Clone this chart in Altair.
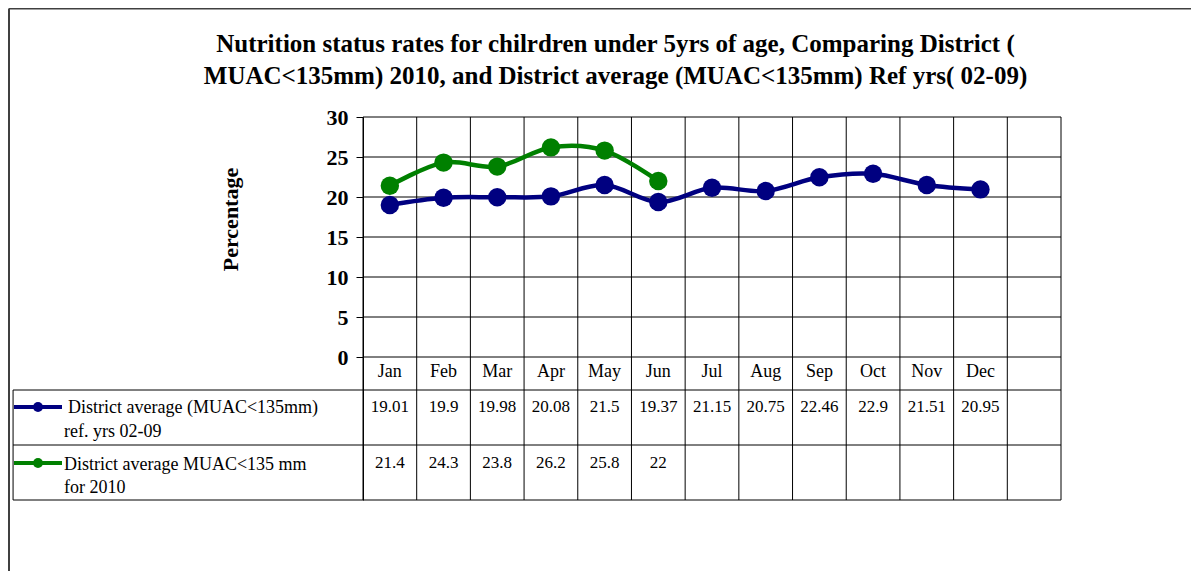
import altair as alt
import pandas as pd

# ---------------- data ----------------
months = ["Jan", "Feb", "Mar", "Apr", "May", "Jun", "Jul", "Aug", "Sep", "Oct", "Nov", "Dec"]
series_ref = "District average (MUAC<135mm) ref. yrs 02-09"
series_2010 = "District average MUAC<135 mm for 2010"
ref_values = [19.01, 19.9, 19.98, 20.08, 21.5, 19.37, 21.15, 20.75, 22.46, 22.9, 21.51, 20.95]
values_2010 = [21.4, 24.3, 23.8, 26.2, 25.8, 22]
legend_lines_ref = ["District average (MUAC<135mm)", "ref. yrs 02-09"]
legend_lines_2010 = ["District average MUAC<135 mm", "for 2010"]
y_ticks = [0, 5, 10, 15, 20, 25, 30]
title_lines = [
    "Nutrition status rates for chilrdren under 5yrs of age, Comparing District (",
    "MUAC<135mm) 2010, and District average (MUAC<135mm) Ref yrs( 02-09)",
]
colors = {series_ref: "#000080", series_2010: "#008000"}

# ---------------- layout (pixels) ----------------
W, H = 1049, 383             # view: table legend column + plot columns
PLOT_LEFT = 351              # plot area starts this far into the view
NCOL = 13                    # 12 months + one empty column
XU = (W - PLOT_LEFT) / NCOL  # px per column
YU = 8.0                     # px per percent
XMIN = -PLOT_LEFT / XU
XMAX = NCOL
YMAX = 30
YMIN = YMAX - H / YU


def px2x(px):  # px relative to view left
    return XMIN + px / XU


def px2y(py):  # py relative to view top
    return YMAX - py / YU


FONT = "Liberation Serif"
TFS = 17  # table value font size
LFS = 18  # table label font size

# table rows (view px): header 240..273, row1 273..328, row2 328..383
ROW_TOP = [240, 273, 328, 383]
HEADER_Y = px2y(255)
VAL_Y = [px2y(290), px2y(346)]
LEG_Y = [[px2y(291), px2y(315)], [px2y(348), px2y(371)]]
SYM_Y = [px2y(290), px2y(346)]

# ---------------- frames ----------------
curve = []
for i, v in enumerate(ref_values):
    curve.append({"x": i + 0.5, "v": v, "s": series_ref})
for i, v in enumerate(values_2010):
    curve.append({"x": i + 0.5, "v": v, "s": series_2010})
curve = pd.DataFrame(curve)

xs = alt.X("x:Q", scale=alt.Scale(domain=[XMIN, XMAX], nice=False, zero=False), axis=None)
ys = alt.Y(
    "v:Q",
    scale=alt.Scale(domain=[YMIN, YMAX], nice=False, zero=False),
    axis=alt.Axis(
        values=y_ticks, offset=-PLOT_LEFT, grid=False,
        domainColor="black", domainWidth=1, tickColor="black", tickSize=7, tickWidth=1,
        labelFont=FONT, labelFontSize=22, labelFontWeight="bold", labelColor="black", labelPadding=8,
        title="Percentage", titleFont=FONT, titleFontSize=22, titleFontWeight="bold", titleColor="black",
        titleAngle=270, titleX=-133, titleY=102, titleAlign="center", titleBaseline="middle",
    ),
)
col = alt.Color("s:N", scale=alt.Scale(domain=list(colors), range=list(colors.values())), legend=None)

hgrid = pd.DataFrame({"x": 0, "x2": XMAX, "v": y_ticks})
vgrid = pd.DataFrame({"x": list(range(0, NCOL + 1)), "v": YMAX, "v2": YMIN})
thl = pd.DataFrame({"x": XMIN + 0.02, "x2": XMAX, "v": [px2y(r) for r in ROW_TOP[1:]]})
tvl = pd.DataFrame({"x": [XMIN + 0.02], "v": [px2y(ROW_TOP[1])], "v2": [YMIN]})

base = alt.Chart(curve)

rule_h = alt.Chart(pd.concat([hgrid, thl])).mark_rule(color="black", strokeWidth=1).encode(
    x=xs, x2="x2:Q", y=ys)
rule_v = alt.Chart(pd.concat([vgrid, tvl])).mark_rule(color="black", strokeWidth=1).encode(
    x=xs, y=alt.Y("v:Q"), y2="v2:Q")

lines = base.mark_line(strokeWidth=4.5, interpolate="cardinal").encode(x=xs, y=alt.Y("v:Q"), color=col, detail="s:N")
dots = base.mark_circle(size=340, opacity=1).encode(x=xs, y=alt.Y("v:Q"), color=col)

hdr = pd.DataFrame({"x": [i + 0.5 for i in range(12)], "v": HEADER_Y, "t": months})
hdr_text = alt.Chart(hdr).mark_text(font=FONT, fontSize=LFS, color="black", baseline="middle").encode(
    x=xs, y=alt.Y("v:Q"), text="t:N")

tv = []
for r, vals in enumerate([ref_values, values_2010]):
    for i, v in enumerate(vals):
        tv.append({"x": i + 0.5, "v": VAL_Y[r], "t": f"{v:g}"})
tv = pd.DataFrame(tv)
val_text = alt.Chart(tv).mark_text(font=FONT, fontSize=TFS, color="black", baseline="middle").encode(
    x=xs, y=alt.Y("v:Q"), text="t:N")

lg = []
for r, lines_ in enumerate([legend_lines_ref, legend_lines_2010]):
    for k, t in enumerate(lines_):
        start = 56 if (r == 0 and k == 0) else 52
        lg.append({"x": px2x(start), "v": LEG_Y[r][k], "t": t})
lg = pd.DataFrame(lg)
leg_text = alt.Chart(lg).mark_text(font=FONT, fontSize=LFS, color="black", align="left", baseline="middle").encode(
    x=xs, y=alt.Y("v:Q"), text="t:N")

sym = pd.DataFrame({
    "x": px2x(2), "x2": px2x(50), "xc": px2x(26),
    "v": SYM_Y, "s": [series_ref, series_2010],
})
sym_line = alt.Chart(sym).mark_rule(strokeWidth=4).encode(x=xs, x2="x2:Q", y=alt.Y("v:Q"), color=col)
sym_dot = alt.Chart(sym).mark_circle(size=100, opacity=1).encode(x=alt.X("xc:Q"), y=alt.Y("v:Q"), color=col)

FRAME_X = px2x(-3)
FRAME_Y = px2y(-108.5)
frame_top = alt.Chart(pd.DataFrame({"x": [FRAME_X], "x2": [px2x(1200)], "v": [FRAME_Y]})).mark_rule(
    color="#404040", strokeWidth=2).encode(x=xs, x2="x2:Q", y=alt.Y("v:Q"))
frame_left = alt.Chart(pd.DataFrame({"x": [FRAME_X], "v": [FRAME_Y], "v2": [px2y(460)]})).mark_rule(
    color="#404040", strokeWidth=2).encode(x=xs, y=alt.Y("v:Q"), y2="v2:Q")

chart = alt.layer(
    frame_top, frame_left, rule_h, rule_v, lines, dots, hdr_text, val_text, leg_text, sym_line, sym_dot
).properties(
    width=W, height=H,
    autosize=alt.AutoSizeParams(type="none"),
    padding={"left": 4, "top": 109, "right": 1183 - 4 - W, "bottom": 563 - 109 - H},
    title=alt.TitleParams(
        text=title_lines, font=FONT, fontSize=25, fontWeight="bold", color="black",
        anchor="middle", frame="group", dx=79, offset=-81, lineHeight=32,
    ),
).configure_view(stroke=None)

chart.save("out.html", embed_options={"renderer": "svg", "actions": False})
